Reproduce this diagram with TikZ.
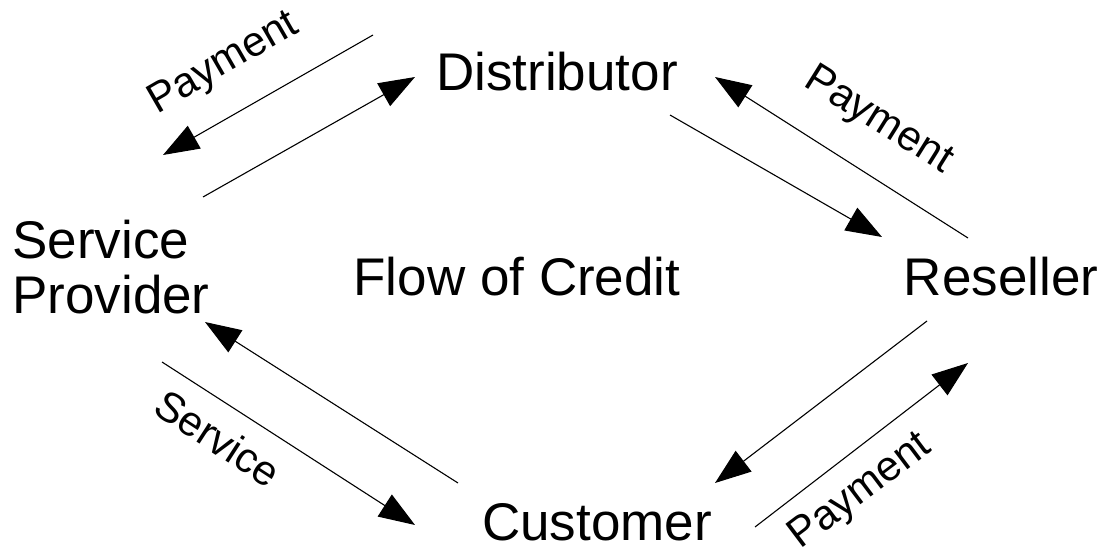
\documentclass[tikz,border=0pt]{standalone}
\usepackage{fontspec}
\setmainfont{Liberation Sans}
\usetikzlibrary{arrows.meta}
\begin{document}
\begin{tikzpicture}[x=1pt,y=-1pt,
  party/.style={font=\fontsize{53}{55}\selectfont, inner sep=0pt, align=left},
  tag/.style={font=\fontsize{42}{46}\selectfont, inner sep=0pt},
  flow/.style={line width=1.1pt, -{Triangle[length=36pt,width=26pt]}}]
\useasboundingbox (0,0) rectangle (1111,559);
\fill[white] (0,0) rectangle (1111,559);

% parties
\node[party] (dist) at (557,72) {Distributor};
\node[party] (sp) at (111,267) {Service\\Provider};
\node[party] (res) at (1001,277) {Reseller};
\node[party] (cust) at (597,522) {Customer};
\node[party] (credit) at (517,277) {Flow of Credit};

% arrow end points
\coordinate (a1s) at (373,35);  \coordinate (a1e) at (163,155);
\coordinate (a2s) at (203,197); \coordinate (a2e) at (415,77);
\coordinate (b1s) at (670,115); \coordinate (b1e) at (882,237);
\coordinate (b2s) at (968,238); \coordinate (b2e) at (715,77);
\coordinate (c1s) at (458,483); \coordinate (c1e) at (205,322);
\coordinate (c2s) at (162,362); \coordinate (c2e) at (415,525);
\coordinate (d1s) at (927,321); \coordinate (d1e) at (715,483);
\coordinate (d2s) at (755,527); \coordinate (d2e) at (968,363);

\draw[flow] (a1s) -- (a1e);
\draw[flow] (a2s) -- (a2e);
\draw[flow] (b1s) -- (b1e);
\draw[flow] (b2s) -- (b2e);
\draw[flow] (c1s) -- (c1e);
\draw[flow] (c2s) -- (c2e);
\draw[flow] (d1s) -- (d1e);
\draw[flow] (d2s) -- (d2e);

% labels
\node[tag, rotate=30] (pay1) at (224,64) {Payment};
\node[tag, rotate=-32] (pay2) at (878,121) {Payment};
\node[tag, rotate=-33] (serv) at (218,438) {Service};
\node[tag, rotate=37] (pay3) at (861,492) {Payment};
\end{tikzpicture}
\end{document}
